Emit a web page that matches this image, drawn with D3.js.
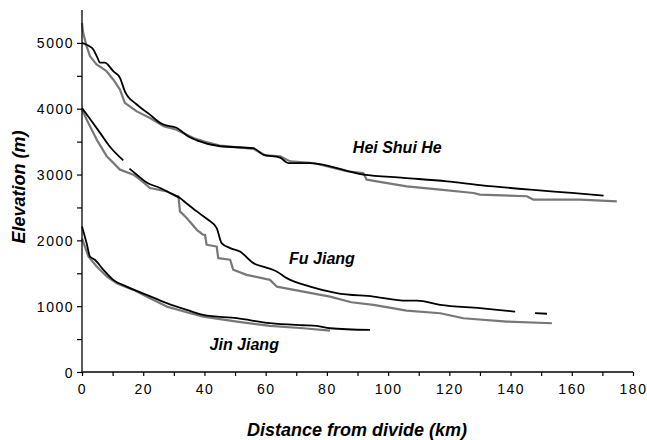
<!DOCTYPE html>
<html><head><meta charset="utf-8">
<script src="https://cdn.jsdelivr.net/npm/d3@7"></script>
<style>
body{margin:0;background:#fff;}
text{font-family:"Liberation Sans",Arial,sans-serif;}
</style></head>
<body><svg id="c" width="647" height="440"></svg>
<script>
// Hei Shui He
const heiModelDist = [0,2,3.7,5,5.9,7.5,9,10.2,12.4,14,17.9,22.2,25.5,26.6,30.9,34.7,37.5,45.1,56,59.3,64.7,67.4,74.5,91.9,105,119.2,130,146.4,160,170.4];
const heiModelElev = [5000,4960,4900,4780,4700,4700,4640,4570,4470,4265,4064,3910,3785,3760,3710,3580,3520,3430,3400,3300,3257,3175,3175,3000,2950,2897,2840,2770,2720,2680];
const heiObsDist = [0,0.4,1.5,2.6,4.8,6.5,8,10.2,12.4,14,17.9,22.2,26.6,30.9,36.4,40,45,52,56,60,64.7,68,75.6,86.5,91.9,93,96.3,106.1,117,127.9,130,145.3,147.5,162.7,174.7];
const heiObsElev = [5300,5150,4950,4800,4670,4620,4570,4445,4290,4090,3960,3860,3735,3680,3555,3500,3440,3410,3390,3290,3277,3200,3175,3050,3022,2922,2897,2820,2770,2720,2695,2670,2618,2618,2592];
// Fu Jiang (model drawn in three pieces)
const fuModel1Dist = [0,3,5.9,9,13.5];
const fuModel1Elev = [4010,3820,3633,3430,3215];
const fuModel2Dist = [15.5,17.9,21.1,25.5,28.8,32,34.2,37.5,41,44,45.6,48.4,51.6,56,60,63.6,66.9,74.5,83.2,95.2,106.1,109.4,117,130,141.5];
const fuModel2Elev = [3090,2998,2880,2796,2720,2642,2560,2440,2320,2187,1959,1883,1831,1654,1590,1527,1426,1298,1200,1146,1085,1085,1020,969,918];
const fuModel3Dist = [148,151.9];
const fuModel3Elev = [893,885];
const fuObsDist = [0,1.5,4.8,8.1,12.4,16.8,19,22.2,27.7,30.9,31.5,32,34.2,37.5,39.6,40.2,40.7,44,44.5,48.4,49.4,53.8,61.4,63.6,72.3,81,88,95.2,106.1,117,124.6,138.8,153.5];
const fuObsElev = [3990,3836,3531,3277,3075,2998,2922,2796,2744,2668,2668,2440,2339,2161,2085,2085,1933,1907,1730,1705,1553,1476,1400,1298,1222,1146,1060,1020,933,893,817,766,741];
// Jin Jiang
const jinModelDist = [0,1.5,2.6,4.2,7,10.2,14.6,21.1,27.7,34.2,39.6,50.6,61.4,72,76.7,81,94.1];
const jinModelElev = [2212,1959,1755,1705,1553,1400,1298,1172,1046,944,868,817,741,710,700,665,639];
const jinObsDist = [0,2.1,4.8,8.1,11.3,16.8,22.2,27.7,34.2,39.6,50.6,61.4,72.3,81];
const jinObsElev = [2030,1755,1603,1451,1350,1248,1122,994,908,842,766,700,665,629];

const riverNames = ["Hei Shui He","Fu Jiang","Jin Jiang"];
const riverLabelAt = [[103,3330],[78.4,1641],[53,330]];
const xTicks = [0,20,40,60,80,100,120,140,160,180];
const yTicks = [0,1000,2000,3000,4000,5000];

const svg = d3.select("#c");
const x = d3.scaleLinear().domain([0,180]).range([82,633]);
const y = d3.scaleLinear().domain([0,5500]).range([372,10]);

function zip(a,b){return a.map((d,i)=>[d,b[i]]);}
const line = d3.line().x(d=>x(d[0])).y(d=>y(d[1]));
const smooth = d3.line().x(d=>x(d[0])).y(d=>y(d[1])).curve(d3.curveMonotoneX);

const obs = [[heiObsDist,heiObsElev],[fuObsDist,fuObsElev],[jinObsDist,jinObsElev]];
const mod = [[heiModelDist,heiModelElev],[fuModel1Dist,fuModel1Elev],[fuModel2Dist,fuModel2Elev],[fuModel3Dist,fuModel3Elev],[jinModelDist,jinModelElev]];
obs.forEach(s=>svg.append("path").attr("d",line(zip(s[0],s[1]))).attr("fill","none").attr("stroke","#777").attr("stroke-width",2.2).attr("stroke-linejoin","round"));
mod.forEach(s=>svg.append("path").attr("d",smooth(zip(s[0],s[1]))).attr("fill","none").attr("stroke","#000").attr("stroke-width",1.8).attr("stroke-linejoin","round"));

// axes
const xAxis = d3.axisBottom(x).tickValues(d3.range(0,181,10)).tickSize(4).tickFormat(d=>xTicks.includes(d)?d:"");
const gx = svg.append("g").attr("transform","translate(0,372)").call(xAxis);
const yAxis = d3.axisLeft(y).tickValues(d3.range(0,5001,500)).tickSize(5).tickFormat(d=>yTicks.includes(d)?d:"");
const gy = svg.append("g").attr("transform","translate(82,0)").call(yAxis);
[gx,gy].forEach(g=>{
  g.select(".domain").attr("stroke","#000").attr("stroke-width",1.3);
  g.selectAll(".tick line").attr("stroke","#000").attr("stroke-width",1.2);
  g.selectAll(".tick text").attr("font-family","Liberation Sans, Arial, sans-serif").attr("font-size",14).attr("fill","#000").style("letter-spacing","1.5px");
});
gy.select(".domain").attr("d","M0,10V372");
gx.select(".domain").attr("d","M82,0H633");
gx.selectAll(".tick text").attr("dy","1.05em");
gy.selectAll(".tick text").attr("x",-8).attr("dy","0.36em");

svg.append("text").attr("x",357).attr("y",436).attr("text-anchor","middle")
  .attr("font-size",18).attr("font-weight","bold").attr("font-style","italic").text("Distance from divide (km)");
svg.append("text").attr("transform","translate(25,187) rotate(-90)").attr("text-anchor","middle")
  .attr("font-size",18).attr("font-weight","bold").attr("font-style","italic").text("Elevation (m)");

riverNames.forEach((n,i)=>{
  svg.append("text").attr("x",x(riverLabelAt[i][0])).attr("y",y(riverLabelAt[i][1])).attr("text-anchor","middle")
    .attr("font-size",16).attr("font-weight","bold").attr("font-style","italic").text(n);
});
</script></body></html>
